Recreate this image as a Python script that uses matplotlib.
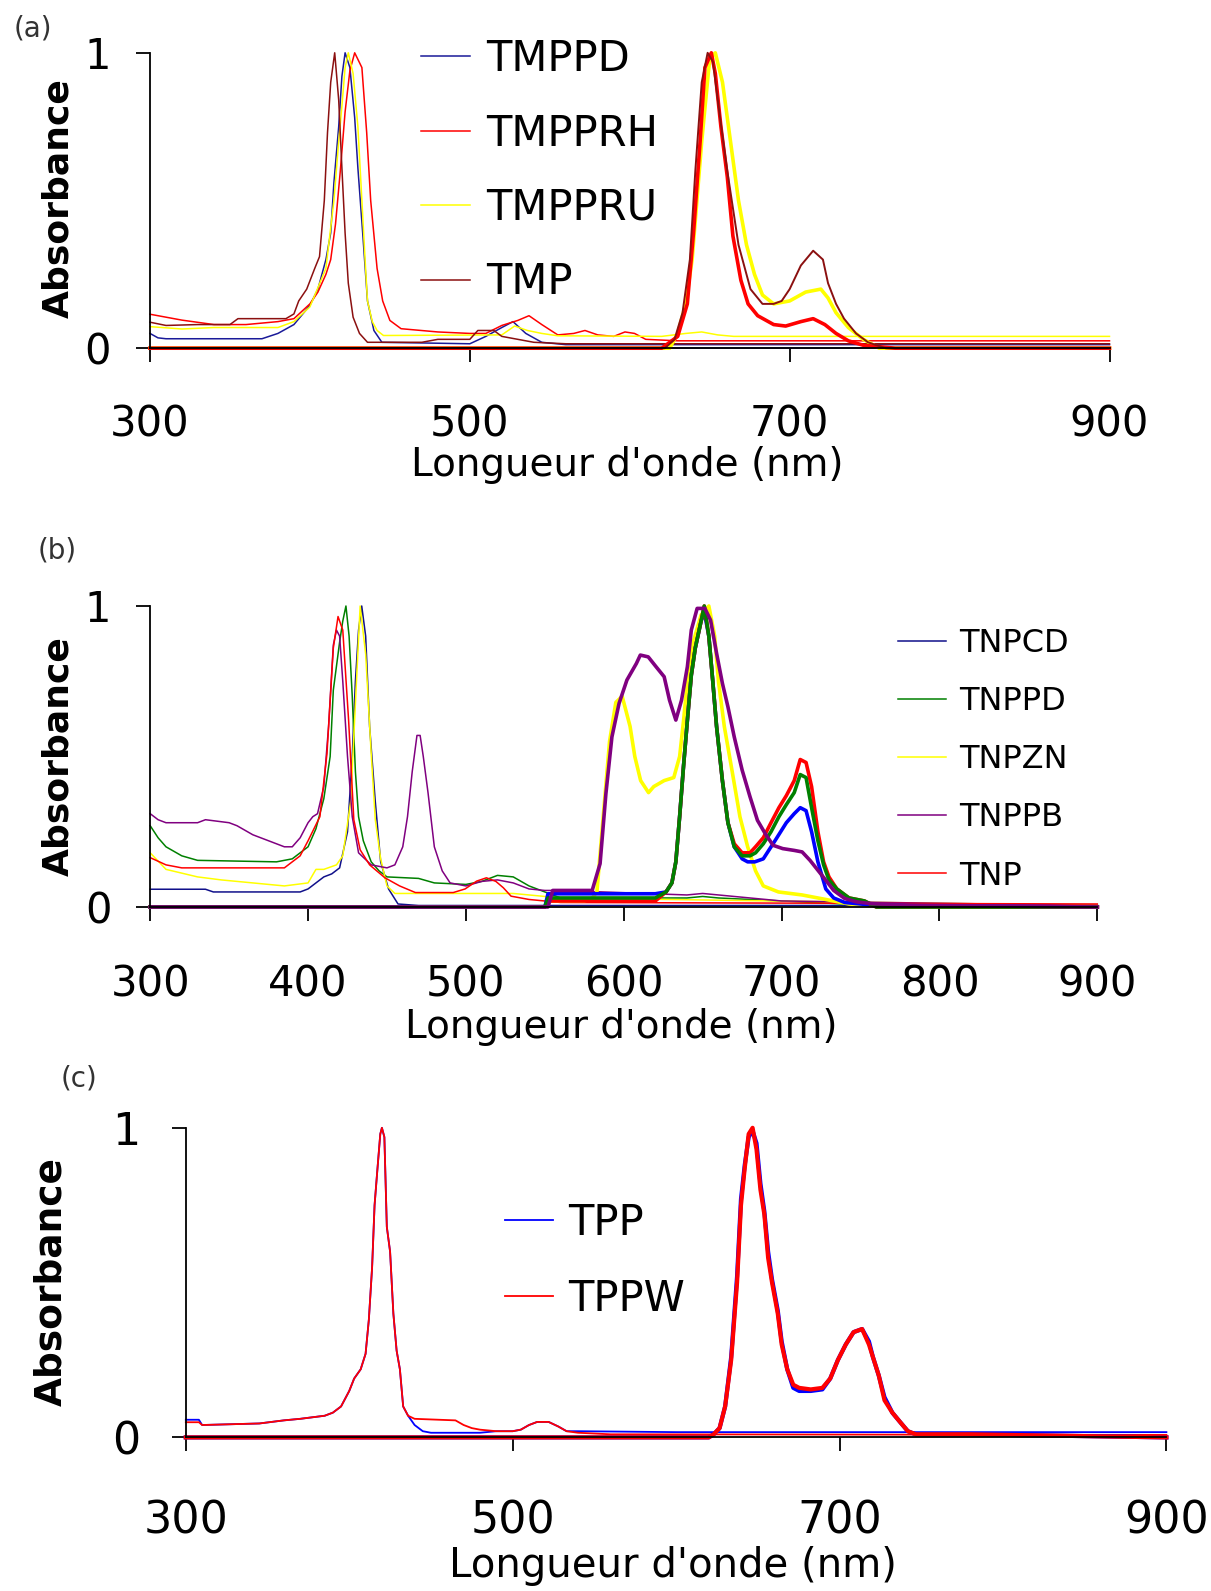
import matplotlib
matplotlib.use('Agg')
import matplotlib.pyplot as plt

# ---------------- Panel (a) data ----------------
a_labels = ['TMPPD', 'TMPPRH', 'TMPPRU', 'TMP']
a_colors = ['#1a1a99', '#ff0000', '#ffff00', '#8b1010']

a_abs_wl_TMPPD = [300, 305, 310, 370, 380, 390, 400, 405, 410, 413, 415, 418, 420, 422, 425, 428, 430, 433, 436, 440, 445, 500, 510, 520, 527, 535, 545, 560, 900]
a_abs_TMPPD = [0.05, 0.035, 0.032, 0.032, 0.05, 0.08, 0.145, 0.2, 0.3, 0.39, 0.56, 0.75, 0.92, 1.0, 0.95, 0.78, 0.61, 0.39, 0.16, 0.06, 0.02, 0.015, 0.04, 0.07, 0.09, 0.05, 0.02, 0.012, 0.012]
a_abs_wl_TMPPRH = [300, 320, 340, 360, 380, 390, 400, 405, 410, 413, 416, 419, 422, 425, 428, 432.5, 435.5, 438, 442, 445.5, 450, 457, 480, 500, 510, 520, 530, 537, 545, 555, 565, 572, 580, 590, 597, 603, 610, 630, 900]
a_abs_TMPPRH = [0.115, 0.095, 0.08, 0.08, 0.09, 0.1, 0.15, 0.19, 0.25, 0.3, 0.42, 0.6, 0.8, 0.94, 1.0, 0.95, 0.73, 0.5, 0.27, 0.16, 0.094, 0.066, 0.055, 0.05, 0.05, 0.077, 0.094, 0.11, 0.08, 0.045, 0.05, 0.06, 0.045, 0.04, 0.055, 0.05, 0.03, 0.025, 0.025]
a_abs_wl_TMPPRU = [300, 320, 340, 380, 390, 400, 410, 415, 418, 420, 422, 424, 427, 430, 432.5, 434.5, 436, 439, 442, 446, 520, 528, 536, 545, 555, 620, 635, 645, 655, 665, 680, 900]
a_abs_TMPPRU = [0.073, 0.065, 0.07, 0.07, 0.09, 0.14, 0.27, 0.5, 0.7, 0.82, 0.95, 1.0, 0.93, 0.75, 0.5, 0.3, 0.16, 0.09, 0.06, 0.043, 0.045, 0.075, 0.06, 0.05, 0.042, 0.04, 0.05, 0.055, 0.045, 0.04, 0.04, 0.04]
a_abs_wl_TMP = [300, 310, 330, 350, 355, 385, 390, 393, 398, 403, 406, 409, 411, 413, 415.5, 418, 420, 422, 424, 427, 431, 436, 470, 480, 500, 505, 515, 520, 530, 540, 560, 900]
a_abs_TMP = [0.088, 0.077, 0.08, 0.08, 0.1, 0.1, 0.116, 0.16, 0.2, 0.27, 0.31, 0.5, 0.73, 0.9, 1.0, 0.84, 0.61, 0.39, 0.22, 0.105, 0.05, 0.02, 0.02, 0.03, 0.03, 0.06, 0.06, 0.04, 0.03, 0.02, 0.015, 0.015]

a_em_wl_TMPPD = [300, 900]
a_em_TMPPD = [0.0, 0.0]
a_em_wl_TMPPRH = [300, 620, 625, 630, 636, 640, 644, 647, 651, 653.5, 657, 661, 664.5, 669.5, 674, 680, 690, 697.5, 707, 714.7, 722, 729, 736.7, 746, 766, 900]
a_em_TMPPRH = [0.0, 0.0, 0.02, 0.04, 0.15, 0.4, 0.7, 0.95, 1.0, 0.93, 0.75, 0.58, 0.38, 0.23, 0.15, 0.11, 0.08, 0.075, 0.09, 0.1, 0.08, 0.05, 0.025, 0.01, 0.0, 0.0]
a_em_wl_TMPPRU = [300, 625, 630, 635, 639, 642, 645, 650, 653.5, 658, 663, 668, 673, 678, 683, 690, 700, 710, 719.5, 724, 729, 736.7, 746, 756, 900]
a_em_TMPPRU = [0.0, 0.0, 0.05, 0.15, 0.3, 0.5, 0.7, 0.98, 1.0, 0.9, 0.7, 0.5, 0.35, 0.25, 0.18, 0.15, 0.16, 0.19, 0.2, 0.17, 0.12, 0.07, 0.03, 0.0, 0.0]
a_em_wl_TMP = [300, 622, 628, 633, 637.6, 641, 645, 648.7, 652, 656, 661, 668, 675.5, 683, 690, 695, 700, 707, 714.7, 720.8, 724, 729, 734, 741.5, 749, 760, 900]
a_em_TMP = [0.0, 0.0, 0.03, 0.12, 0.3, 0.6, 0.9, 1.0, 0.97, 0.8, 0.6, 0.35, 0.2, 0.15, 0.15, 0.16, 0.2, 0.28, 0.33, 0.3, 0.22, 0.15, 0.1, 0.05, 0.02, 0.0, 0.0]

# ---------------- Panel (b) data ----------------
b_labels = ['TNPCD', 'TNPPD', 'TNPZN', 'TNPPB', 'TNP']
b_colors = ['#10108a', '#008000', '#ffff00', '#800080', '#ff0000']
b_em_colors = ['#0000ff', '#008000', '#ffff00', '#800080', '#ff0000']

b_abs_wl_TNPCD = [300, 335, 340, 395, 400, 405, 410, 415, 420, 425, 428, 430, 432, 434, 436.5, 439, 442.6, 446, 451, 457, 470, 900]
b_abs_TNPCD = [0.059, 0.059, 0.05, 0.05, 0.06, 0.08, 0.1, 0.11, 0.13, 0.25, 0.5, 0.75, 0.92, 1.0, 0.9, 0.6, 0.35, 0.15, 0.06, 0.01, 0.005, 0.005]
b_abs_wl_TNPPD = [300, 305, 310, 320, 330, 380, 390, 395, 400, 405, 410, 414, 416, 418, 420, 422, 424, 426, 428, 430, 432, 435, 440, 445, 450, 470, 480, 500, 510, 520, 530, 540, 550, 560, 640, 650, 660, 700, 760, 900]
b_abs_TNPPD = [0.27, 0.23, 0.2, 0.17, 0.155, 0.15, 0.16, 0.18, 0.2, 0.26, 0.36, 0.5, 0.72, 0.8, 0.88, 0.95, 1.0, 0.9, 0.7, 0.45, 0.3, 0.22, 0.15, 0.12, 0.1, 0.095, 0.08, 0.075, 0.085, 0.105, 0.1, 0.07, 0.05, 0.03, 0.03, 0.035, 0.03, 0.02, 0.005, 0.005]
b_abs_wl_TNPZN = [300, 310, 330, 345, 365, 385, 400, 405, 410, 418, 422, 427, 430.5, 433, 436.5, 440, 442.6, 446, 450, 455, 530, 560, 900]
b_abs_TNPZN = [0.18, 0.125, 0.1, 0.09, 0.08, 0.07, 0.08, 0.125, 0.125, 0.14, 0.17, 0.35, 0.73, 1.0, 0.84, 0.51, 0.29, 0.16, 0.07, 0.045, 0.045, 0.03, 0.005]
b_abs_wl_TNPPB = [300, 305, 310, 330, 335, 350, 355, 365, 375, 385, 390, 395, 400, 403, 406, 410, 413, 416, 418, 420, 422, 425, 428, 432, 440, 450, 455, 460, 463, 466, 469, 471, 473, 476, 480, 485, 490, 500, 510, 520, 530, 540, 550, 560, 640, 650, 660, 700, 900]
b_abs_TNPPB = [0.31, 0.29, 0.28, 0.28, 0.29, 0.28, 0.27, 0.24, 0.22, 0.2, 0.2, 0.23, 0.28, 0.3, 0.31, 0.4, 0.6, 0.87, 0.92, 0.9, 0.75, 0.5, 0.3, 0.18, 0.14, 0.13, 0.14, 0.2, 0.3, 0.45, 0.57, 0.57, 0.5, 0.38, 0.2, 0.12, 0.08, 0.07, 0.085, 0.09, 0.08, 0.06, 0.055, 0.055, 0.04, 0.045, 0.04, 0.02, 0.005]
b_abs_wl_TNP = [300, 310, 320, 385, 395, 400, 407.5, 412, 416, 419, 422, 425.7, 429, 433, 439, 448.7, 458, 468, 492, 499.5, 506.8, 513, 519, 523.7, 528.6, 540, 560, 900]
b_abs_TNP = [0.164, 0.14, 0.13, 0.13, 0.17, 0.22, 0.3, 0.51, 0.86, 0.965, 0.92, 0.62, 0.29, 0.19, 0.14, 0.097, 0.07, 0.048, 0.048, 0.06, 0.086, 0.097, 0.085, 0.064, 0.036, 0.025, 0.015, 0.01]

b_em_wl_TNPCD = [300, 550, 552, 620, 626.8, 630.5, 633, 635.4, 637.9, 640.3, 642.8, 645.3, 649, 651, 653.9, 656.4, 658.8, 662.5, 666, 670, 675, 678.5, 683, 688.4, 695.8, 703, 708, 711.8, 715.5, 719, 723, 728, 733, 740, 760, 900]
b_em_TNPCD = [0.0, 0.0, 0.044, 0.044, 0.05, 0.08, 0.15, 0.3, 0.47, 0.62, 0.77, 0.86, 0.95, 0.98, 0.9, 0.75, 0.6, 0.42, 0.28, 0.2, 0.16, 0.15, 0.15, 0.16, 0.22, 0.28, 0.31, 0.33, 0.32, 0.25, 0.15, 0.06, 0.03, 0.015, 0.005, 0.0]
b_em_wl_TNPPD = [300, 550, 552, 620, 626.8, 630.5, 633, 635.4, 637.9, 640.3, 642.8, 645.3, 649, 651, 653.9, 656.4, 658.8, 662.5, 666, 670, 675, 680, 683.5, 688.4, 693.3, 698.3, 703, 708, 711.8, 715.5, 719, 723, 726.6, 730, 735, 742.7, 752.5, 760, 900]
b_em_TNPPD = [0.0, 0.0, 0.03, 0.03, 0.05, 0.08, 0.15, 0.3, 0.47, 0.62, 0.77, 0.86, 0.95, 1.0, 0.9, 0.75, 0.6, 0.42, 0.28, 0.2, 0.17, 0.17, 0.18, 0.21, 0.25, 0.3, 0.34, 0.38, 0.44, 0.43, 0.33, 0.22, 0.14, 0.09, 0.06, 0.03, 0.02, 0.0, 0.0]
b_em_wl_TNPZN = [300, 550, 552, 575, 580, 583, 587, 591, 595, 599, 604, 607, 610.7, 615.7, 619, 625.6, 631.7, 635.4, 637.9, 640.3, 644, 649, 653.9, 657.6, 660, 663.7, 668.7, 673.6, 678.5, 683.5, 688.4, 698, 713, 728, 742.7, 760, 900]
b_em_TNPZN = [0.0, 0.0, 0.02, 0.02, 0.03, 0.05, 0.3, 0.55, 0.68, 0.7, 0.6, 0.5, 0.42, 0.38, 0.4, 0.42, 0.43, 0.5, 0.62, 0.75, 0.88, 0.97, 1.0, 0.9, 0.75, 0.6, 0.45, 0.3, 0.2, 0.12, 0.07, 0.05, 0.04, 0.025, 0.01, 0.003, 0.0]
b_em_wl_TNPPB = [300, 552, 555, 580, 585, 588.7, 592.5, 597, 602, 608, 610.5, 615.5, 620.5, 625.6, 629, 633, 636.6, 640.3, 642.8, 646.5, 651.4, 655, 658.8, 662.5, 666, 670, 675, 680, 684.7, 689.6, 694.6, 700.7, 708, 713, 718, 723, 728, 733, 740, 747.6, 757, 782, 900]
b_em_TNPPB = [0.0, 0.0, 0.055, 0.055, 0.144, 0.377, 0.565, 0.676, 0.754, 0.809, 0.837, 0.831, 0.798, 0.765, 0.687, 0.621, 0.687, 0.798, 0.92, 0.992, 0.992, 0.953, 0.843, 0.743, 0.665, 0.565, 0.455, 0.366, 0.288, 0.244, 0.205, 0.194, 0.188, 0.183, 0.155, 0.122, 0.089, 0.055, 0.028, 0.017, 0.011, 0.006, 0.0]
b_em_wl_TNP = b_em_wl_TNPPD
b_em_TNP = [0.0, 0.0, 0.02, 0.02, 0.05, 0.08, 0.15, 0.3, 0.47, 0.62, 0.77, 0.86, 0.95, 1.0, 0.9, 0.75, 0.6, 0.42, 0.28, 0.21, 0.18, 0.18, 0.2, 0.23, 0.28, 0.33, 0.37, 0.42, 0.49, 0.48, 0.4, 0.25, 0.15, 0.1, 0.06, 0.03, 0.02, 0.0, 0.0]

# ---------------- Panel (c) data ----------------
c_labels = ['TPP', 'TPPW']
c_colors = ['#0000ff', '#ff0000']

c_abs_wl_TPP = [300, 308, 310, 345, 360, 370, 385, 390, 395, 400, 403, 407, 410, 412, 414, 415.5, 417, 419, 420, 421.5, 423, 425, 427, 429, 431, 433, 436, 440, 445, 450, 480, 490, 500, 505, 510, 515, 522, 528, 533, 540, 600, 900]
c_abs_TPP = [0.057, 0.057, 0.04, 0.045, 0.055, 0.06, 0.07, 0.08, 0.1, 0.15, 0.19, 0.22, 0.27, 0.38, 0.55, 0.75, 0.85, 0.98, 1.0, 0.97, 0.68, 0.6, 0.4, 0.28, 0.22, 0.1, 0.07, 0.04, 0.02, 0.015, 0.015, 0.02, 0.02, 0.025, 0.04, 0.05, 0.05, 0.035, 0.02, 0.02, 0.017, 0.017]
c_abs_wl_TPPW = [300, 308, 310, 345, 360, 370, 385, 390, 395, 400, 403, 407, 410, 412, 414, 415.5, 417, 419, 420, 421.5, 423, 425, 427, 429, 431, 433, 436, 440, 465, 470, 475, 480, 490, 500, 505, 510, 515, 522, 528, 533, 540, 560, 900]
c_abs_TPPW = [0.049, 0.049, 0.04, 0.045, 0.055, 0.06, 0.07, 0.08, 0.1, 0.15, 0.19, 0.22, 0.27, 0.38, 0.55, 0.75, 0.85, 0.98, 1.0, 0.97, 0.68, 0.6, 0.4, 0.28, 0.22, 0.1, 0.07, 0.06, 0.055, 0.04, 0.03, 0.025, 0.02, 0.02, 0.025, 0.04, 0.05, 0.05, 0.035, 0.02, 0.015, 0.01, 0.008]
c_em_wl_TPP = [300, 620, 623, 626.6, 630, 633.7, 637.3, 639.7, 642, 644.4, 646.8, 649.2, 651.6, 654, 656.3, 658.7, 662.2, 664.6, 668, 671.7, 675.3, 682.4, 689.5, 694.3, 699, 703.8, 708.6, 713.8, 718, 720.4, 724, 727.5, 732.3, 737, 741.8, 746.6, 780, 900]
c_em_TPP = [0.0, 0.0, 0.01, 0.03, 0.1, 0.26, 0.52, 0.77, 0.88, 0.97, 0.99, 0.95, 0.82, 0.73, 0.6, 0.51, 0.41, 0.31, 0.22, 0.16, 0.15, 0.15, 0.155, 0.19, 0.25, 0.3, 0.34, 0.35, 0.31, 0.26, 0.2, 0.13, 0.08, 0.05, 0.02, 0.01, 0.01, 0.0]
c_em_wl_TPPW = c_em_wl_TPP
c_em_TPPW = [0.0, 0.0, 0.01, 0.03, 0.1, 0.25, 0.5, 0.75, 0.87, 0.98, 1.0, 0.93, 0.8, 0.72, 0.58, 0.5, 0.4, 0.3, 0.22, 0.17, 0.16, 0.155, 0.16, 0.19, 0.25, 0.3, 0.34, 0.35, 0.3, 0.26, 0.2, 0.12, 0.08, 0.05, 0.02, 0.01, 0.01, 0.0]

xlabel_text = "Longueur d'onde (nm)"
ylabel_text = "Absorbance"

# ---------------- Figure ----------------
W, H = 1211, 1591
fig = plt.figure(figsize=(W / 100, H / 100), dpi=100)
fig.patch.set_facecolor('white')
FONT = 'DejaVu Sans'


def add_axes(x0, x1, ytop, ybot):
    return fig.add_axes([x0 / W, 1 - ybot / H, (x1 - x0) / W, (ybot - ytop) / H])


def style(ax, xticks, fs, xpad, ypad):
    ax.set_xlim(300, 900)
    ax.set_ylim(0, 1)
    for s in ['top', 'right']:
        ax.spines[s].set_visible(False)
    for s in ['left', 'bottom']:
        ax.spines[s].set_linewidth(1.3)
    ax.set_xticks(xticks)
    ax.set_xticklabels([str(t) for t in xticks], fontfamily=FONT)
    ax.set_yticks([0, 1])
    ax.set_yticklabels(['0', '1'], fontfamily=FONT)
    ax.tick_params(axis='both', direction='out', length=10, width=1.3, labelsize=fs)
    ax.tick_params(axis='x', pad=xpad)
    ax.tick_params(axis='y', pad=ypad)
    ax.patch.set_alpha(0)


def px(x, y):
    return x / W, 1 - y / H


THIN = 1.1
THICK = 2.6

# Panel (a)
axa = add_axes(150, 1109.5, 52.8, 348.2)
style(axa, [300, 500, 700, 900], 30, 30, 18)
a_abs = [(a_abs_wl_TMPPD, a_abs_TMPPD), (a_abs_wl_TMPPRH, a_abs_TMPPRH),
         (a_abs_wl_TMPPRU, a_abs_TMPPRU), (a_abs_wl_TMP, a_abs_TMP)]
a_em = [(a_em_wl_TMPPD, a_em_TMPPD, THIN), (a_em_wl_TMPPRU, a_em_TMPPRU, THICK),
        (a_em_wl_TMPPRH, a_em_TMPPRH, THICK), (a_em_wl_TMP, a_em_TMP, 1.4)]
a_em_colors = [a_colors[0], a_colors[2], a_colors[1], a_colors[3]]
for (wl, v), c, lab in zip(a_abs, a_colors, a_labels):
    axa.plot(wl, v, color=c, lw=THIN, label=lab, clip_on=False)
for (wl, v, lw), c in zip(a_em, a_em_colors):
    axa.plot(wl, v, color=c, lw=lw, clip_on=False)
h, l = axa.get_legend_handles_labels()
axa.legend(h, l, loc='upper left', bbox_to_anchor=px(421, 38), bbox_transform=fig.transFigure,
           frameon=False, handlelength=1.17, handletextpad=0.4, labelspacing=0.78,
           borderpad=0, borderaxespad=0, prop={'family': FONT, 'size': 30})

# Panel (b)
axb = add_axes(150.2, 1097.3, 606, 907)
style(axb, [300, 400, 500, 600, 700, 800, 900], 30, 31, 18)
b_abs = [(b_abs_wl_TNPCD, b_abs_TNPCD), (b_abs_wl_TNPPD, b_abs_TNPPD), (b_abs_wl_TNPZN, b_abs_TNPZN),
         (b_abs_wl_TNPPB, b_abs_TNPPB), (b_abs_wl_TNP, b_abs_TNP)]
b_em = [(b_em_wl_TNPZN, b_em_TNPZN, b_em_colors[2]), (b_em_wl_TNPCD, b_em_TNPCD, b_em_colors[0]),
        (b_em_wl_TNP, b_em_TNP, b_em_colors[4]), (b_em_wl_TNPPD, b_em_TNPPD, b_em_colors[1]),
        (b_em_wl_TNPPB, b_em_TNPPB, b_em_colors[3])]
for (wl, v), c, lab in zip(b_abs, b_colors, b_labels):
    axb.plot(wl, v, color=c, lw=THIN, label=lab, clip_on=False)
for wl, v, c in b_em:
    axb.plot(wl, v, color=c, lw=THICK, clip_on=False)
h, l = axb.get_legend_handles_labels()
axb.legend(h, l, loc='upper left', bbox_to_anchor=px(898, 628), bbox_transform=fig.transFigure,
           frameon=False, handlelength=1.5, handletextpad=0.4, labelspacing=0.85,
           borderpad=0, borderaxespad=0, prop={'family': FONT, 'size': 23})

# Panel (c)
axc = add_axes(185.8, 1166.4, 1127.8, 1437.4)
style(axc, [300, 500, 700, 900], 32, 35, 23)
c_abs = [(c_abs_wl_TPP, c_abs_TPP), (c_abs_wl_TPPW, c_abs_TPPW)]
c_em = [(c_em_wl_TPP, c_em_TPP), (c_em_wl_TPPW, c_em_TPPW)]
for (wl, v), c, lab in zip(c_abs, c_colors, c_labels):
    axc.plot(wl, v, color=c, lw=THIN + 0.2, label=lab, clip_on=False)
for (wl, v), c in zip(c_em, c_colors):
    axc.plot(wl, v, color=c, lw=THICK + 0.4, clip_on=False)
h, l = axc.get_legend_handles_labels()
axc.legend(h, l, loc='upper left', bbox_to_anchor=px(504.5, 1202), bbox_transform=fig.transFigure,
           frameon=False, handlelength=1.16, handletextpad=0.37, labelspacing=0.81,
           borderpad=0, borderaxespad=0, prop={'family': FONT, 'size': 30})

# Axis titles
for (x, y, fs) in [(627, 465, 28), (621, 1027, 28), (673, 1566, 29)]:
    fig.text(*px(x, y), xlabel_text, ha='center', va='center', fontsize=fs, fontfamily=FONT)
for (x, y, fs) in [(58, 198, 26), (58, 756, 26), (51, 1281, 27)]:
    fig.text(*px(x, y), ylabel_text, ha='center', va='center', rotation=90, fontsize=fs,
             fontweight='bold', fontfamily=FONT)
for (x, y, t) in [(32.5, 28.4, '(a)'), (57, 550, '(b)'), (79, 1078, '(c)')]:
    fig.text(*px(x, y), t, ha='center', va='center', fontsize=20, color='#333333', fontfamily=FONT)

fig.savefig('out.png', dpi=100)
